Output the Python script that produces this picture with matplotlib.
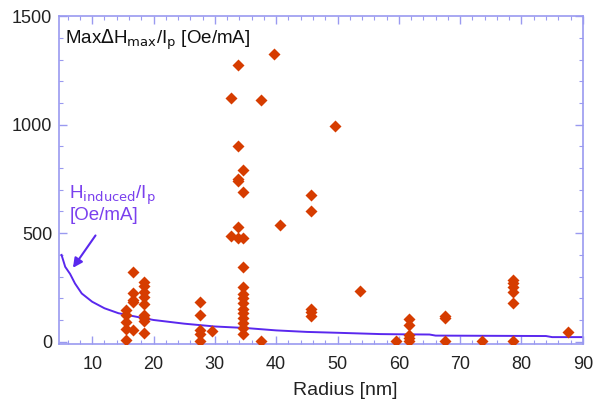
import matplotlib.pyplot as plt
from matplotlib.ticker import MultipleLocator

plt.rcParams['font.family'] = ['Liberation Sans', 'DejaVu Sans']

# measured points: radius [nm] and Max dH_max / I_p [Oe/mA]
radius = ([15.5] * 5 + [16.7] * 5 + [18.5] * 9 + [27.6] * 5 + [29.6]
          + [32.6] * 2 + [33.7] * 6 + [34.6] * 14
          + [37.6] * 2 + [39.6, 40.7] + [45.7] * 5 + [49.6, 53.6, 59.6]
          + [61.6] * 5 + [67.6] * 3 + [73.6] + [78.6] * 6 + [87.6])
dh_max = ([146, 123, 90, 57, 6]
          + [321, 225, 192, 184, 55]
          + [275, 255, 230, 205, 175, 123, 108, 97, 40]
          + [181, 123, 55, 35, 5]
          + [51]
          + [1125, 489]
          + [1277, 904, 752, 740, 527, 480]
          + [793, 688, 480, 344, 250, 222, 203, 177, 152, 130, 107, 86, 64, 35]
          + [1113, 3]
          + [1326, 538]
          + [676, 602, 150, 135, 117]
          + [995, 233, 5]
          + [106, 79, 33, 15, 3]
          + [118, 110, 4]
          + [4]
          + [283, 269, 251, 230, 177, 4]
          + [43])

# induced field per current curve
curve_r = [5, 5.6, 6.4, 7.2, 8.3, 10, 12, 14.3, 17, 20, 25, 30, 35, 40,
           45, 50, 57, 60, 65, 66, 75, 84, 85, 90]
curve_h = [400, 345, 312, 268, 222, 184, 154, 131, 116, 100, 83, 70, 63, 52,
           45, 41, 35, 34, 33, 28, 27, 26, 21, 21]

spine_col = '#9a9af0'
line_col = '#5a28ee'
text_purple = '#7a40ee'
marker_col = '#d63c00'

fig = plt.figure(figsize=(6.09, 4.05), dpi=100)
ax = fig.add_axes([0.097, 0.151, 0.860, 0.809])

ax.plot(curve_r, curve_h, color=line_col, lw=1.4, zorder=2)
ax.plot(radius, dh_max, linestyle='none', marker='D', ms=6.3,
        color=marker_col, mec='none', zorder=3)

ax.set_xlim(4.6, 90)
ax.set_ylim(-10, 1500)
ax.xaxis.set_major_locator(MultipleLocator(10))
ax.xaxis.set_minor_locator(MultipleLocator(2))
ax.yaxis.set_major_locator(MultipleLocator(500))
ax.yaxis.set_minor_locator(MultipleLocator(100))

for s in ax.spines.values():
    s.set_color(spine_col)
    s.set_linewidth(1.2)
ax.tick_params(which='both', direction='in', top=True, right=True,
               color=spine_col, labelsize=13, labelcolor='#222222')
ax.tick_params(which='major', length=6, width=1)
ax.tick_params(which='minor', length=3, width=0.8)
ax.tick_params(axis='x', which='major', pad=9)
ax.tick_params(axis='y', which='major', pad=5)

ax.set_xlabel('Radius [nm]', fontsize=14, color='#222222')
ax.xaxis.set_label_coords(0.547, -0.115)

ax.text(0.012, 0.965, r'Max$\Delta$H$_{\mathrm{max}}$/I$_{\mathrm{p}}$ [Oe/mA]',
        transform=ax.transAxes, fontsize=13.5, color='#111111', va='top', ha='left')

ax.annotate('H$_{\\mathrm{induced}}$/I$_{\\mathrm{p}}$\n[Oe/mA]',
            xy=(6.7, 335), xytext=(6.3, 730), fontsize=13.5, color=text_purple,
            va='top', ha='left', linespacing=1.0, zorder=4)
ax.annotate('', xy=(6.6, 330), xytext=(10.8, 500),
            arrowprops=dict(arrowstyle='-|>', color=line_col, lw=1.5,
                            mutation_scale=14))

fig.savefig('out.png', dpi=100)
